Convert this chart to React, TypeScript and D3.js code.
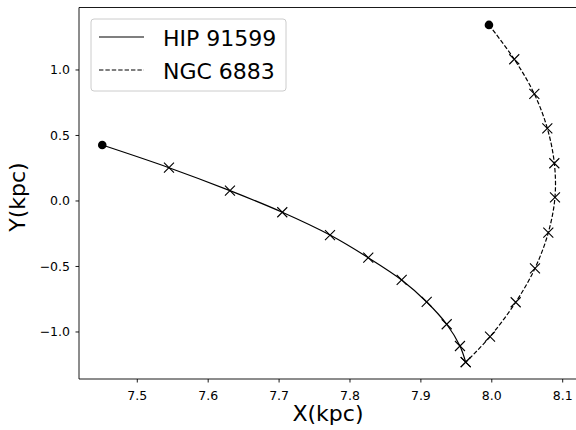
import React from "react";
import * as d3 from "d3";

const hipX = [7.4506, 7.5447, 7.6307, 7.7045, 7.7718, 7.8258, 7.8729, 7.9082, 7.9364, 7.9551, 7.9632];
const hipY = [0.427, 0.254, 0.079, -0.086, -0.26, -0.433, -0.603, -0.771, -0.941, -1.107, -1.231];
const ngcX = [7.996, 8.0317, 8.06, 8.0783, 8.0882, 8.0891, 8.0797, 8.0609, 8.0337, 7.9975, 7.9632];
const ngcY = [1.344, 1.082, 0.817, 0.555, 0.288, 0.028, -0.242, -0.514, -0.773, -1.036, -1.231];
const xTicks = [7.5, 7.6, 7.7, 7.8, 7.9, 8.0, 8.1];
const yTicks = [-1.0, -0.5, 0.0, 0.5, 1.0];
const seriesNames = ["HIP 91599", "NGC 6883"];

const W = 576, H = 430;
const L = 79, R = 579, T = 7.5, B = 379;
const FONT = "DejaVu Sans, sans-serif";

const fmt = (v: number) => (v < 0 ? "\u2212" : "") + Math.abs(v).toFixed(1);

export default function App() {
  const x = d3.scaleLinear().domain([7.4178, 8.123]).range([L, R]);
  const y = d3.scaleLinear().domain([-1.359, 1.477]).range([B, T]);
  const line = d3
    .line<[number, number]>()
    .x((d) => x(d[0]))
    .y((d) => y(d[1]))
    .curve(d3.curveCatmullRom.alpha(0.5));
  const hip: [number, number][] = hipX.map((v, i) => [v, hipY[i]]);
  const ngc: [number, number][] = ngcX.map((v, i) => [v, ngcY[i]]);
  const cross = (px: number, py: number, k: string) => (
    <path key={k} d={`M${px - 5},${py - 5}L${px + 5},${py + 5}M${px - 5},${py + 5}L${px + 5},${py - 5}`} stroke="black" strokeWidth={1.1} fill="none" />
  );
  const marks = (pts: [number, number][], key: string) =>
    pts.map((p, i) =>
      i === 0 ? (
        <circle key={key + i} cx={x(p[0])} cy={y(p[1])} r={4.3} fill="black" />
      ) : (
        cross(x(p[0]), y(p[1]), key + i)
      )
    );

  return (
    <svg width={W} height={H} style={{ position: "absolute", left: 0, top: 0, background: "white" }} fontFamily={FONT}>
      <rect x={0} y={0} width={W} height={H} fill="white" />
      <path d={line(hip) || ""} fill="none" stroke="black" strokeWidth={1.2} />
      <path d={line(ngc) || ""} fill="none" stroke="black" strokeWidth={1.2} strokeDasharray="4.4,2" />
      {marks(hip, "h")}
      {marks(ngc, "n")}
      {/* spines */}
      <line x1={L} x2={L} y1={T} y2={B} stroke="black" strokeWidth={0.9} />
      <line x1={L} x2={R} y1={B} y2={B} stroke="black" strokeWidth={0.9} />
      <line x1={L} x2={R} y1={T} y2={T} stroke="black" strokeWidth={0.9} />
      <line x1={R} x2={R} y1={T} y2={B} stroke="black" strokeWidth={0.9} />
      {xTicks.map((t) => (
        <g key={"xt" + t}>
          <line x1={x(t)} x2={x(t)} y1={B} y2={B + 3.5} stroke="black" strokeWidth={0.9} />
          <text x={x(t)} y={400} textAnchor="middle" fontSize={12.5} fill="black">{t.toFixed(1)}</text>
        </g>
      ))}
      {yTicks.map((t) => (
        <g key={"yt" + t}>
          <line x1={L - 3.5} x2={L} y1={y(t)} y2={y(t)} stroke="black" strokeWidth={0.9} />
          <text x={70} y={y(t) + 4.5} textAnchor="end" fontSize={12.5} fill="black">{fmt(t)}</text>
        </g>
      ))}
      <text x={328} y={421} textAnchor="middle" fontSize={22} fill="black">X(kpc)</text>
      <text transform="translate(25,197) rotate(-90)" textAnchor="middle" fontSize={22} fill="black">Y(kpc)</text>
      {/* legend */}
      <rect x={91} y={19} width={195} height={72} rx={3} fill="white" fillOpacity={0.8} stroke="#cccccc" strokeWidth={1} />
      <line x1={99} x2={144} y1={37} y2={37} stroke="black" strokeWidth={1.2} />
      <line x1={99} x2={144} y1={70} y2={70} stroke="black" strokeWidth={1.2} strokeDasharray="4.4,2" />
      <text x={163} y={45.7} fontSize={22} fill="black">{seriesNames[0]}</text>
      <text x={163} y={79} fontSize={22} fill="black">{seriesNames[1]}</text>
    </svg>
  );
}
